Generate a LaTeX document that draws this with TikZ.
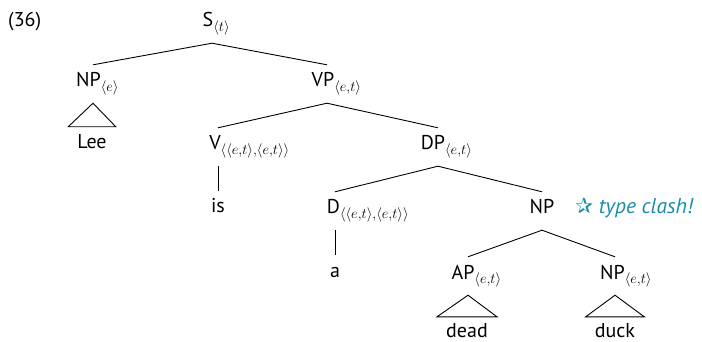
\documentclass[tikz,border=0pt]{standalone}
\usepackage{fontspec}
\setmainfont{PT Sans}
\newfontfamily\symfont{DejaVu Sans}
\definecolor{clash}{RGB}{26,140,170}
\newcommand\tsub[2][8pt]{\rlap{\raisebox{-5pt}{\fontsize{15}{18}\selectfont$\langle #2\rangle$}}\kern#1}
\begin{document}
\begin{tikzpicture}[x=1pt,y=-1pt,
  font=\fontsize{20}{24}\selectfont,
  cat/.style={anchor=base, text height=14pt, text depth=8pt, inner ysep=8pt, inner xsep=0pt},
  leaf/.style={anchor=base, text height=22pt, text depth=0pt, inner ysep=0pt, inner xsep=9pt},
  low/.style={text height=20pt},
  br/.style={line width=0.9pt},
  note/.style={anchor=base west, inner sep=0pt, text=clash, font=\fontsize{21.5}{25}\selectfont}]
\useasboundingbox (0,0) rectangle (702,342);
\node[anchor=base west, inner sep=0pt] (ex) at (8,27) {(36)};
\node[cat] (S) at (212,27) {S\tsub[8pt]{t}};
\node[cat] (NP1) at (93,87) {NP\tsub[9pt]{e}};
\node[cat] (VP) at (327,87) {VP\tsub[8pt]{e{,}t}};
\node[leaf] (Lee) at (92,149) {Lee};
\node[cat] (V) at (218,150) {V\tsub[6pt]{\langle e{,}t\rangle{,}\langle e{,}t\rangle}};
\node[cat] (DP) at (438,150) {DP\tsub[10pt]{e{,}t}};
\node[cat] (is) at (218,213) {is};
\node[cat] (D) at (335,214) {D\tsub[3pt]{\langle e{,}t\rangle{,}\langle e{,}t\rangle}};
\node[cat] (NP2) at (542,214) {NP};
\node[note] (tc) at (575,214) {{\symfont ✰} \textit{type clash!}};
\node[cat] (a) at (335,277) {a};
\node[cat] (AP) at (468,279) {AP\tsub[10pt]{e{,}t}};
\node[cat] (NP3) at (615,279) {NP\tsub[5pt]{e{,}t}};
\node[leaf, low] (dead) at (467,337) {dead};
\node[leaf, low] (duck) at (615,337) {duck};
\draw[br] (NP1.north) -- (S.south) -- (VP.north);
\draw[br] (NP1.south) -- (Lee.north west) -- (Lee.north east) -- cycle;
\draw[br] (V.north) -- (VP.south) -- (DP.north);
\draw[br] (V.south) -- (is.north);
\draw[br] (D.north) -- (DP.south) -- (NP2.north);
\draw[br] (D.south) -- (a.north);
\draw[br] (AP.north) -- (NP2.south) -- (NP3.north);
\draw[br] (AP.south) -- (dead.north west) -- (dead.north east) -- cycle;
\draw[br] (NP3.south) -- (duck.north west) -- (duck.north east) -- cycle;
\end{tikzpicture}
\end{document}
